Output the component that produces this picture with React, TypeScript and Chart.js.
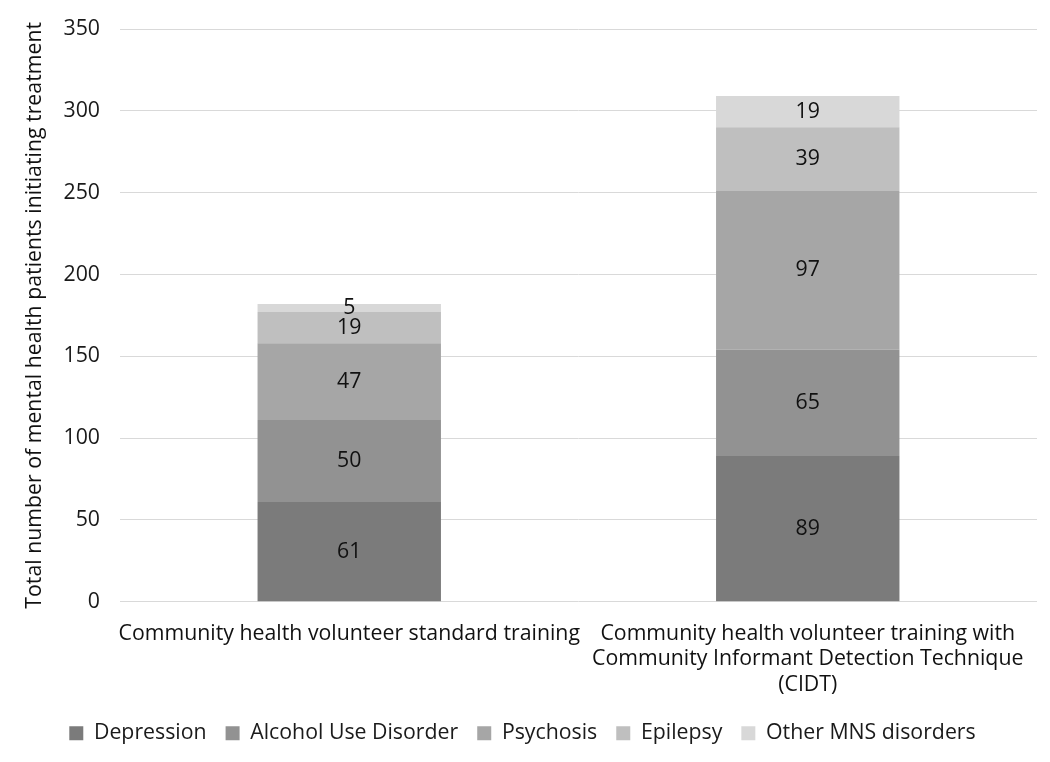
import React, { useEffect, useRef } from "react";
import { Chart, registerables } from "chart.js";

Chart.register(...registerables);

const categories: (string | string[])[] = [
  "Community health volunteer standard training",
  ["Community health volunteer training with", "Community Informant Detection Technique", "(CIDT)"],
];
const seriesNames = ["Depression", "Alcohol Use Disorder", "Psychosis", "Epilepsy", "Other MNS disorders"];
const depression = [61, 89];
const alcohol = [50, 65];
const psychosis = [47, 97];
const epilepsy = [19, 39];
const otherMNS = [5, 19];
const colors = ["#7b7b7b", "#929292", "#a6a6a6", "#bfbfbf", "#d8d8d8"];
const yTicks = [0, 50, 100, 150, 200, 250, 300, 350];

const FONT = "'Open Sans', sans-serif";
const FS = 21.3;

const labelPlugin = {
  id: "segLabels",
  afterDatasetsDraw(chart: any) {
    const ctx = chart.ctx;
    ctx.save();
    ctx.font = `${FS}px ${FONT}`;
    ctx.fillStyle = "#111111";
    ctx.textAlign = "center";
    ctx.textBaseline = "middle";
    chart.data.datasets.forEach((ds: any, di: number) => {
      const meta = chart.getDatasetMeta(di);
      meta.data.forEach((el: any, i: number) => {
        const v = ds.data[i];
        const y = (el.y + el.base) / 2;
        ctx.fillText(String(v), el.x, y);
      });
    });
    ctx.restore();
  },
};

export default function App() {
  const ref = useRef<HTMLCanvasElement>(null);
  useEffect(() => {
    document.body.style.margin = "0";
    const data = [depression, alcohol, psychosis, epilepsy, otherMNS];
    const chart = new Chart(ref.current!, {
      type: "bar",
      data: {
        labels: categories as any,
        datasets: seriesNames.map((name, k) => ({
          label: name,
          data: data[k],
          backgroundColor: colors[k],
          borderWidth: 0,
          barPercentage: 0.4,
          categoryPercentage: 1,
        })),
      },
      options: {
        animation: false,
        responsive: false,
        layout: { padding: { left: 8, right: 13, top: 29, bottom: 8 } },
        plugins: {
          tooltip: { enabled: false },
          legend: {
            position: "bottom",
            labels: {
              font: { family: FONT, size: FS },
              color: "#1a1a1a",
              boxWidth: 14,
              boxHeight: 14,
              padding: 19,
            },
          },
        },
        scales: {
          x: {
            stacked: true,
            grid: { display: false, drawTicks: false },
            border: { display: false },
            afterFit: (s: any) => {
              s.height = 102;
            },
            ticks: {
              font: { family: FONT, size: FS, lineHeight: 1.2 },
              color: "#111111",
              padding: 19,
              maxRotation: 0,
              autoSkip: false,
            },
          },
          y: {
            stacked: true,
            min: 0,
            max: 350,
            afterBuildTicks: (s: any) => {
              s.ticks = yTicks.map((v) => ({ value: v }));
            },
            afterFit: (s: any) => {
              s.width = 112;
              s.paddingTop = 0;
              s.paddingBottom = 0;
            },
            grid: { color: "#d9d9d9", drawTicks: false, lineWidth: 1 },
            border: { display: false },
            ticks: {
              font: { family: FONT, size: FS },
              color: "#1a1a1a",
              padding: 20,
            },
            title: {
              display: true,
              text: "Total number of mental health patients initiating treatment",
              font: { family: FONT, size: FS },
              color: "#111111",
              padding: { top: 14, bottom: 0 },
            },
          },
        },
      },
      plugins: [labelPlugin],
    });
    return () => chart.destroy();
  }, []);
  return <canvas ref={ref} width={1050} height={762} style={{ display: "block" }} />;
}
